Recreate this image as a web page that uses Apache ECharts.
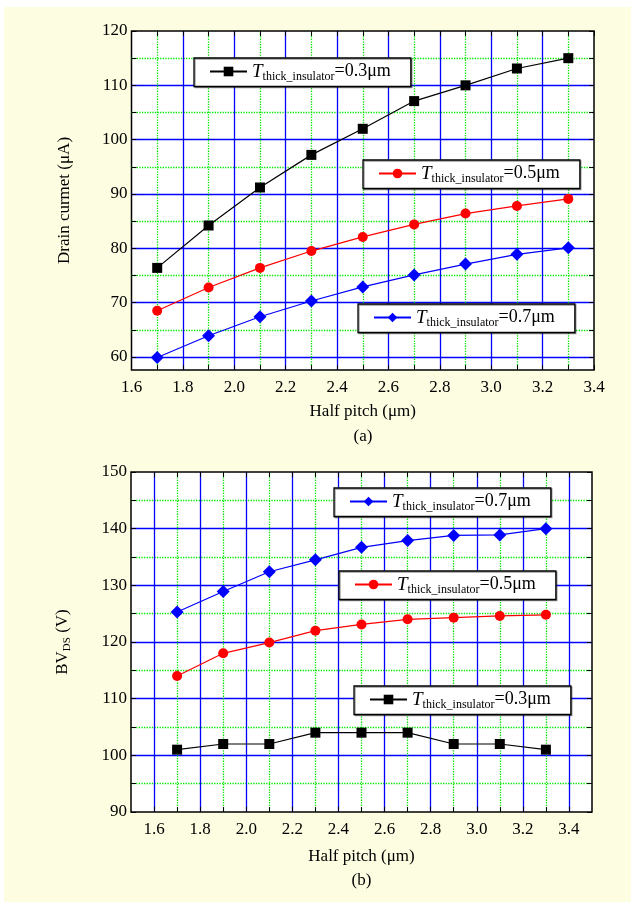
<!DOCTYPE html>
<html>
<head>
<meta charset="utf-8">
<script src="https://cdn.jsdelivr.net/npm/echarts@6/dist/echarts.min.js"></script>
<style>
  html, body { margin: 0; padding: 0; background: #fff; }
  #bg { position: absolute; left: 4px; top: 7px; width: 627px; height: 895px; background: #fdfde2; }
  #chart { position: absolute; left: 0; top: 0; width: 631px; height: 902px; }
</style>
</head>
<body>
<div id="bg"></div>
<div id="chart"></div>
<script>
// half pitch (um), shared by both panels
const halfPitch = [1.7, 1.9, 2.1, 2.3, 2.5, 2.7, 2.9, 3.1, 3.3];
// (a) drain current (uA)
const current03 = [76.4, 84.2, 91.2, 97.2, 102.0, 107.1, 110.0, 113.1, 115.0];
const current05 = [68.5, 72.8, 76.4, 79.5, 82.1, 84.4, 86.4, 87.8, 89.1];
const current07 = [59.9, 63.9, 67.4, 70.3, 72.9, 75.1, 77.1, 78.9, 80.1];
// (b) breakdown voltage BVds (V)
const bv03 = [101, 102, 102, 104, 104, 104, 102, 102, 101];
const bv05 = [114.0, 118.0, 119.9, 122.0, 123.1, 124.0, 124.3, 124.6, 124.8];
const bv07 = [125.3, 128.9, 132.4, 134.5, 136.7, 137.9, 138.8, 138.9, 140.0];

const FONT = 'Liberation Serif';
const BLUE = '#0000ff';
const GREEN = '#00e600';
const RED = '#ff0000';

const pairs = (ys) => halfPitch.map((x, i) => [x, ys[i]]);

const labelStyle = { fontFamily: FONT, fontSize: 17, color: '#000' };
const tickIn = { show: true, inside: true, length: 5, lineStyle: { color: '#000', width: 1 } };
const minorTickIn = { show: true, splitNumber: 2, length: 5, lineStyle: { color: '#000', width: 1 } };
const blueLines = { show: true, showMinLine: false, showMaxLine: false, lineStyle: { color: BLUE, width: 1.3 } };
const greenLines = { show: true, lineStyle: { color: GREEN, width: 1.3, type: 'dotted' } };

function legendBox(name, left, top) {
  return {
    data: [name],
    left: left,
    top: top,
    selectedMode: false,
    backgroundColor: '#fff',
    borderColor: '#000',
    borderWidth: 1.3,
    borderRadius: 0,
    shadowColor: 'rgba(0,0,0,0.4)',
    shadowOffsetX: 1,
    shadowOffsetY: 1,
    padding: [4, 20, 4, 15],
    itemWidth: 37,
    itemHeight: 12,
    formatter: (n) => '{i|T}{s|thick_insulator}{n|=' + n.slice(1) + 'μm}',
    textStyle: {
      rich: {
        i: { fontFamily: FONT, fontStyle: 'italic', fontSize: 19, color: '#000', lineHeight: 22 },
        s: { fontFamily: FONT, fontSize: 12, color: '#000', lineHeight: 12, verticalAlign: 'bottom' },
        n: { fontFamily: FONT, fontSize: 18, color: '#000', lineHeight: 22 }
      }
    }
  };
}

function lineSeries(name, xi, yi, data, color, symbol, size) {
  return {
    name: name,
    type: 'line',
    xAxisIndex: xi,
    yAxisIndex: yi,
    data: data,
    color: color,
    symbol: symbol,
    symbolSize: size,
    showAllSymbol: true,
    clip: false,
    lineStyle: { color: color, width: 1.2 },
    itemStyle: { color: color },
    silent: true
  };
}

const chart = echarts.init(document.getElementById('chart'));
chart.setOption({
  animation: false,
  backgroundColor: 'transparent',
  grid: [
    // (a) frame, x 1.6..3.4, y down to 57.5
    { left: 131.5, right: 37, top: 31, bottom: 532, show: true, backgroundColor: '#fff', borderColor: '#000', borderWidth: 1.5 },
    // (a) data, y 60..120
    { left: 131.5, right: 37, top: 31, bottom: 545 },
    // (b) frame, x 1.5..3.5
    { left: 131, right: 39, top: 472, bottom: 90, show: true, backgroundColor: '#fff', borderColor: '#000', borderWidth: 1.5 },
    // (b) data, x 1.6..3.4
    { left: 154.05, right: 62.05, top: 472, bottom: 90 }
  ],
  xAxis: [
    {
      type: 'value', gridIndex: 0, position: 'bottom', min: 1.6, max: 3.4, interval: 0.2,
      axisLine: { show: false }, axisTick: tickIn, minorTick: minorTickIn,
      axisLabel: Object.assign({ margin: 9, formatter: (v) => v.toFixed(1) }, labelStyle),
      splitLine: blueLines, minorSplitLine: greenLines,
      name: 'Half pitch (μm)', nameLocation: 'middle', nameGap: 33, nameTextStyle: labelStyle
    },
    {
      type: 'value', gridIndex: 0, position: 'top', min: 1.6, max: 3.4, interval: 0.2,
      axisLine: { show: false }, axisTick: tickIn, minorTick: minorTickIn,
      axisLabel: { show: false }, splitLine: { show: false }
    },
    { type: 'value', gridIndex: 1, min: 1.6, max: 3.4, show: false },
    { type: 'value', gridIndex: 2, min: 1.5, max: 3.5, show: false },
    {
      type: 'value', gridIndex: 3, position: 'bottom', min: 1.6, max: 3.4, interval: 0.2,
      axisLine: { show: false }, axisTick: tickIn, minorTick: minorTickIn,
      axisLabel: Object.assign({ margin: 9, formatter: (v) => v.toFixed(1) }, labelStyle),
      splitLine: { show: true, lineStyle: { color: BLUE, width: 1.3 } }, minorSplitLine: greenLines,
      name: 'Half pitch (μm)', nameLocation: 'middle', nameGap: 36, nameTextStyle: labelStyle
    },
    {
      type: 'value', gridIndex: 3, position: 'top', min: 1.6, max: 3.4, interval: 0.2,
      axisLine: { show: false }, axisTick: tickIn, minorTick: minorTickIn,
      axisLabel: { show: false }, splitLine: { show: false }
    }
  ],
  yAxis: [
    {
      type: 'value', gridIndex: 0, min: 0, max: 1,
      axisLine: { show: false }, axisTick: { show: false }, axisLabel: { show: false }, splitLine: { show: false },
      name: 'Drain curmet (μA)', nameLocation: 'middle', nameGap: 58, nameRotate: 90, nameTextStyle: labelStyle
    },
    {
      type: 'value', gridIndex: 1, position: 'left', min: 60, max: 120, interval: 10,
      axisLine: { show: false }, axisTick: tickIn, minorTick: minorTickIn,
      axisLabel: Object.assign({ margin: 4 }, labelStyle),
      splitLine: { show: true, showMaxLine: false, lineStyle: { color: BLUE, width: 1.3 } },
      minorSplitLine: greenLines
    },
    {
      type: 'value', gridIndex: 1, position: 'right', min: 60, max: 120, interval: 10,
      axisLine: { show: false }, axisTick: tickIn, minorTick: minorTickIn,
      axisLabel: { show: false }, splitLine: { show: false }
    },
    {
      type: 'value', gridIndex: 2, position: 'left', min: 90, max: 150, interval: 10,
      axisLine: { show: false }, axisTick: tickIn, minorTick: minorTickIn,
      axisLabel: Object.assign({ margin: 4 }, labelStyle),
      splitLine: blueLines, minorSplitLine: greenLines,
      name: '{t|BV}{s|DS}{t| (V)}', nameLocation: 'middle', nameGap: 58, nameRotate: 90,
      nameTextStyle: {
        rich: {
          t: { fontFamily: FONT, fontSize: 17, color: '#000', lineHeight: 20 },
          s: { fontFamily: FONT, fontSize: 11, color: '#000', lineHeight: 11, verticalAlign: 'bottom' }
        }
      }
    },
    {
      type: 'value', gridIndex: 2, position: 'right', min: 90, max: 150, interval: 10,
      axisLine: { show: false }, axisTick: tickIn, minorTick: minorTickIn,
      axisLabel: { show: false }, splitLine: { show: false }
    },
    { type: 'value', gridIndex: 3, min: 90, max: 150, show: false }
  ],
  legend: [
    legendBox('a0.3', 194, 58),
    legendBox('a0.5', 363, 160),
    legendBox('a0.7', 358, 304),
    legendBox('b0.7', 334, 488),
    legendBox('b0.5', 339, 571),
    legendBox('b0.3', 354, 686)
  ],
  graphic: [
    { type: 'text', x: 363, y: 437, style: { text: '(a)', font: '17px "Liberation Serif"', fill: '#000', textAlign: 'center', textVerticalAlign: 'middle' } },
    { type: 'text', x: 361.5, y: 881, style: { text: '(b)', font: '17px "Liberation Serif"', fill: '#000', textAlign: 'center', textVerticalAlign: 'middle' } }
  ],
  series: [
    lineSeries('a0.3', 2, 1, pairs(current03), '#000', 'rect', 10),
    lineSeries('a0.5', 2, 1, pairs(current05), RED, 'circle', 10),
    lineSeries('a0.7', 2, 1, pairs(current07), BLUE, 'diamond', 13),
    lineSeries('b0.3', 4, 5, pairs(bv03), '#000', 'rect', 10),
    lineSeries('b0.5', 4, 5, pairs(bv05), RED, 'circle', 10),
    lineSeries('b0.7', 4, 5, pairs(bv07), BLUE, 'diamond', 13)
  ]
});
</script>
</body>
</html>
